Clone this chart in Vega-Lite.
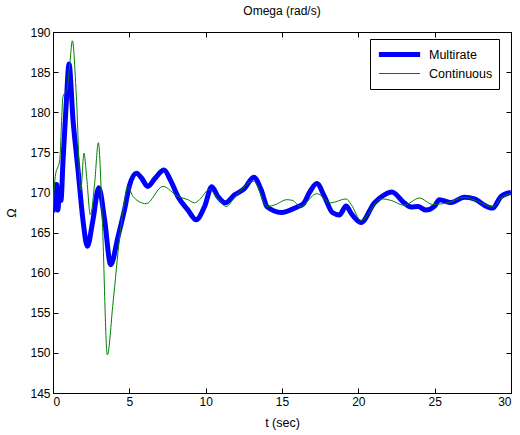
{
  "$schema": "https://vega.github.io/schema/vega-lite/v6.json",
  "width": 458,
  "height": 361,
  "autosize": "none",
  "padding": {"left": 53, "top": 32, "right": 9, "bottom": 42},
  "background": "white",
  "config": {
    "font": "Liberation Sans",
    "view": {"stroke": "black", "strokeWidth": 1},
    "axis": {"grid": false, "domainColor": "black", "tickColor": "black", "labelColor": "black", "titleColor": "black", "labelFontSize": 12, "titleFontSize": 12.5, "titleFontWeight": "normal", "tickSize": -5, "domain": true}
  },
  "title": {"text": "Omega (rad/s)", "fontSize": 12, "fontWeight": "normal", "color": "black", "offset": 8},
  "datasets": {
    "multirate": [
      {"t": 0, "omega": 167.5, "series": "Multirate"},
      {"t": 0.08, "omega": 171, "series": "Multirate"},
      {"t": 0.16, "omega": 168, "series": "Multirate"},
      {"t": 0.24, "omega": 171, "series": "Multirate"},
      {"t": 0.32, "omega": 167.8, "series": "Multirate"},
      {"t": 0.42, "omega": 170, "series": "Multirate"},
      {"t": 0.52, "omega": 169, "series": "Multirate"},
      {"t": 0.66, "omega": 174.1, "series": "Multirate"},
      {"t": 0.87, "omega": 181.2, "series": "Multirate"},
      {"t": 1.05, "omega": 186, "series": "Multirate"},
      {"t": 1.31, "omega": 179.1, "series": "Multirate"},
      {"t": 1.64, "omega": 172.8, "series": "Multirate"},
      {"t": 1.96, "omega": 166.6, "series": "Multirate"},
      {"t": 2.25, "omega": 163.3, "series": "Multirate"},
      {"t": 2.62, "omega": 166.6, "series": "Multirate"},
      {"t": 3.0, "omega": 170.6, "series": "Multirate"},
      {"t": 3.38, "omega": 166.6, "series": "Multirate"},
      {"t": 3.78, "omega": 161, "series": "Multirate"},
      {"t": 4.26, "omega": 164.5, "series": "Multirate"},
      {"t": 4.7, "omega": 168, "series": "Multirate"},
      {"t": 5.0, "omega": 170.8, "series": "Multirate"},
      {"t": 5.46, "omega": 172.4, "series": "Multirate"},
      {"t": 5.8, "omega": 171.8, "series": "Multirate"},
      {"t": 6.2, "omega": 170.75, "series": "Multirate"},
      {"t": 6.7, "omega": 171.8, "series": "Multirate"},
      {"t": 7.27, "omega": 172.8, "series": "Multirate"},
      {"t": 7.7, "omega": 171.5, "series": "Multirate"},
      {"t": 8.18, "omega": 169.5, "series": "Multirate"},
      {"t": 8.84, "omega": 167.8, "series": "Multirate"},
      {"t": 9.38, "omega": 166.6, "series": "Multirate"},
      {"t": 9.93, "omega": 168.25, "series": "Multirate"},
      {"t": 10.4, "omega": 170.7, "series": "Multirate"},
      {"t": 10.8, "omega": 169.5, "series": "Multirate"},
      {"t": 11.28, "omega": 168.7, "series": "Multirate"},
      {"t": 11.9, "omega": 169.7, "series": "Multirate"},
      {"t": 12.55, "omega": 170.5, "series": "Multirate"},
      {"t": 13.15, "omega": 171.9, "series": "Multirate"},
      {"t": 13.64, "omega": 170.3, "series": "Multirate"},
      {"t": 14.03, "omega": 168.2, "series": "Multirate"},
      {"t": 14.95, "omega": 167.5, "series": "Multirate"},
      {"t": 16.0, "omega": 168.2, "series": "Multirate"},
      {"t": 16.4, "omega": 168.6, "series": "Multirate"},
      {"t": 16.8, "omega": 170, "series": "Multirate"},
      {"t": 17.28, "omega": 171.1, "series": "Multirate"},
      {"t": 17.78, "omega": 169.5, "series": "Multirate"},
      {"t": 18.3, "omega": 167.5, "series": "Multirate"},
      {"t": 18.76, "omega": 167.2, "series": "Multirate"},
      {"t": 19.2, "omega": 168.3, "series": "Multirate"},
      {"t": 19.53, "omega": 167.4, "series": "Multirate"},
      {"t": 20.18, "omega": 166.25, "series": "Multirate"},
      {"t": 21.05, "omega": 168.7, "series": "Multirate"},
      {"t": 21.7, "omega": 169.7, "series": "Multirate"},
      {"t": 22.2, "omega": 170.05, "series": "Multirate"},
      {"t": 23.0, "omega": 168.7, "series": "Multirate"},
      {"t": 23.45, "omega": 168.2, "series": "Multirate"},
      {"t": 23.9, "omega": 168.25, "series": "Multirate"},
      {"t": 24.44, "omega": 167.8, "series": "Multirate"},
      {"t": 24.98, "omega": 168.25, "series": "Multirate"},
      {"t": 25.3, "omega": 169.1, "series": "Multirate"},
      {"t": 26.07, "omega": 168.75, "series": "Multirate"},
      {"t": 26.95, "omega": 169.4, "series": "Multirate"},
      {"t": 27.6, "omega": 169.2, "series": "Multirate"},
      {"t": 28.47, "omega": 168.2, "series": "Multirate"},
      {"t": 28.8, "omega": 168.05, "series": "Multirate"},
      {"t": 29.35, "omega": 169.5, "series": "Multirate"},
      {"t": 30, "omega": 170, "series": "Multirate"}
    ],
    "continuous": [
      {"t": 0, "omega": 168.2, "series": "Continuous"},
      {"t": 0.15, "omega": 172, "series": "Continuous"},
      {"t": 0.44, "omega": 174.1, "series": "Continuous"},
      {"t": 0.66, "omega": 182, "series": "Continuous"},
      {"t": 0.92, "omega": 182.8, "series": "Continuous"},
      {"t": 1.1, "omega": 186, "series": "Continuous"},
      {"t": 1.27, "omega": 188.9, "series": "Continuous"},
      {"t": 1.53, "omega": 182, "series": "Continuous"},
      {"t": 1.82, "omega": 170.3, "series": "Continuous"},
      {"t": 2.03, "omega": 174.9, "series": "Continuous"},
      {"t": 2.2, "omega": 172, "series": "Continuous"},
      {"t": 2.45, "omega": 167.2, "series": "Continuous"},
      {"t": 2.73, "omega": 171.2, "series": "Continuous"},
      {"t": 2.97, "omega": 176.2, "series": "Continuous"},
      {"t": 3.23, "omega": 166.6, "series": "Continuous"},
      {"t": 3.56, "omega": 149.75, "series": "Continuous"},
      {"t": 3.93, "omega": 156.2, "series": "Continuous"},
      {"t": 4.37, "omega": 164.5, "series": "Continuous"},
      {"t": 4.7, "omega": 169.1, "series": "Continuous"},
      {"t": 4.9, "omega": 170.75, "series": "Continuous"},
      {"t": 5.24, "omega": 169.5, "series": "Continuous"},
      {"t": 6.1, "omega": 168.6, "series": "Continuous"},
      {"t": 7.2, "omega": 170.75, "series": "Continuous"},
      {"t": 8.18, "omega": 169.5, "series": "Continuous"},
      {"t": 8.84, "omega": 169.1, "series": "Continuous"},
      {"t": 9.27, "omega": 168.7, "series": "Continuous"},
      {"t": 9.6, "omega": 169.1, "series": "Continuous"},
      {"t": 10.25, "omega": 170.4, "series": "Continuous"},
      {"t": 10.7, "omega": 169.5, "series": "Continuous"},
      {"t": 11.35, "omega": 168.25, "series": "Continuous"},
      {"t": 11.9, "omega": 169.4, "series": "Continuous"},
      {"t": 13.15, "omega": 171.4, "series": "Continuous"},
      {"t": 14.03, "omega": 168.25, "series": "Continuous"},
      {"t": 14.6, "omega": 168.5, "series": "Continuous"},
      {"t": 15.3, "omega": 169.1, "series": "Continuous"},
      {"t": 15.7, "omega": 169.0, "series": "Continuous"},
      {"t": 16.2, "omega": 168.25, "series": "Continuous"},
      {"t": 17.28, "omega": 169.85, "series": "Continuous"},
      {"t": 18.2, "omega": 168.7, "series": "Continuous"},
      {"t": 19.2, "omega": 169.2, "series": "Continuous"},
      {"t": 19.53, "omega": 168.5, "series": "Continuous"},
      {"t": 20.18, "omega": 166.5, "series": "Continuous"},
      {"t": 21.5, "omega": 169.2, "series": "Continuous"},
      {"t": 22.15, "omega": 169.0, "series": "Continuous"},
      {"t": 23.0, "omega": 168.4, "series": "Continuous"},
      {"t": 24.0, "omega": 169.3, "series": "Continuous"},
      {"t": 24.87, "omega": 168.5, "series": "Continuous"},
      {"t": 25.85, "omega": 168.7, "series": "Continuous"},
      {"t": 26.95, "omega": 169.4, "series": "Continuous"},
      {"t": 27.8, "omega": 168.9, "series": "Continuous"},
      {"t": 28.8, "omega": 168.2, "series": "Continuous"},
      {"t": 29.35, "omega": 169.3, "series": "Continuous"},
      {"t": 30, "omega": 169.9, "series": "Continuous"}
    ]
  },
  "resolve": {"axis": {"x": "independent", "y": "independent"}},
  "layer": [
    {
      "data": {"name": "multirate"},
      "mark": {"type": "line", "interpolate": "monotone", "clip": true},
      "encoding": {
        "x": {"field": "t", "type": "quantitative", "scale": {"domain": [0, 30], "nice": false}, "axis": {"title": "t (sec)", "values": [0, 5, 10, 15, 20, 25, 30], "labelPadding": 8, "titlePadding": 9}},
        "y": {"field": "omega", "type": "quantitative", "scale": {"domain": [145, 190], "nice": false, "zero": false}, "axis": {"title": "Ω", "values": [145, 150, 155, 160, 165, 170, 175, 180, 185, 190], "labelPadding": 8, "titlePadding": 11}},
        "color": {"field": "series", "type": "nominal", "scale": {"domain": ["Multirate", "Continuous"], "range": ["#0000ff", "#008000"]}, "legend": {"title": null, "orient": "none", "legendX": 317, "legendY": 7, "symbolType": "stroke", "symbolSize": 1700, "clipHeight": 19, "labelFontSize": 12.5, "labelColor": "black", "strokeColor": "black", "fillColor": "white", "padding": 6, "rowPadding": 0, "labelOffset": 6}},
        "strokeWidth": {"field": "series", "type": "nominal", "scale": {"domain": ["Multirate", "Continuous"], "range": [5, 1]}, "legend": {"title": null, "orient": "none", "legendX": 317, "legendY": 7}}
      }
    },
    {
      "data": {"name": "continuous"},
      "mark": {"type": "line", "interpolate": "monotone", "clip": true},
      "encoding": {
        "x": {"field": "t", "type": "quantitative", "axis": {"orient": "top", "title": null, "labels": false, "values": [0, 5, 10, 15, 20, 25, 30]}},
        "y": {"field": "omega", "type": "quantitative", "axis": {"orient": "right", "title": null, "labels": false, "values": [145, 150, 155, 160, 165, 170, 175, 180, 185, 190]}},
        "color": {"field": "series", "type": "nominal"},
        "strokeWidth": {"field": "series", "type": "nominal"}
      }
    }
  ]
}
